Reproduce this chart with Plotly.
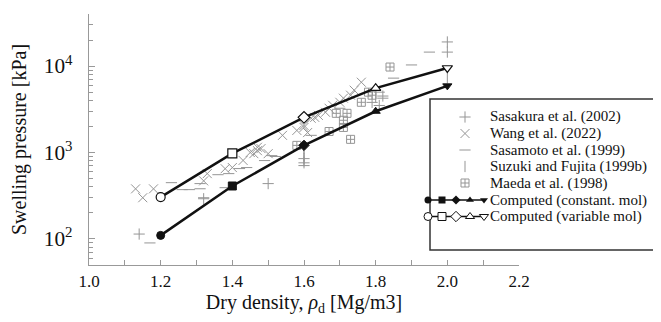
import math
import plotly.graph_objects as go

# ---------------- data ----------------
sasakura_x = [1.14, 1.32, 1.50, 1.60, 1.60, 1.79, 1.81, 1.82, 2.00, 2.00]
sasakura_y = [114, 292, 437, 850, 760, 3800, 3500, 4500, 14500, 19000]

wang_x = [1.13, 1.15, 1.18, 1.32, 1.33, 1.38, 1.40, 1.43, 1.46, 1.47, 1.48, 1.50,
          1.54, 1.58, 1.60, 1.60, 1.62, 1.63, 1.64, 1.66, 1.67, 1.68, 1.70,
          1.71, 1.73, 1.74, 1.76, 1.45, 1.47, 1.61]
wang_y = [380, 300, 380, 470, 570, 650, 670, 810, 970, 1050, 1110, 970,
          1580, 1800, 1950, 2060, 2490, 2550, 2690, 2920, 3250, 3520, 3810,
          4250, 4600, 5260, 6500, 1000, 1150, 1700]

sasamoto_x = [1.17, 1.23, 1.26, 1.28, 1.31, 1.31, 1.32, 1.36, 1.38, 1.39, 1.42,
              1.44, 1.49, 1.51, 1.52, 1.60, 1.62, 1.70, 1.81, 1.82, 1.85,
              1.90, 1.95]
sasamoto_y = [90, 448, 372, 372, 437, 381, 300, 554, 392, 570, 652,
              670, 807, 920, 900, 706, 1580, 3250, 4990, 4250, 7250,
              10300, 14500]

suzuki_x = [1.60, 1.60, 1.60, 1.80, 2.00]
suzuki_y = [1100, 920, 800, 4400, 7300]

maeda_x = [1.58, 1.67, 1.69, 1.72, 1.71, 1.71, 1.73, 1.76, 1.78, 1.79, 1.84]
maeda_y = [1210, 1750, 2840, 2840, 2360, 1950, 1420, 3810, 4990, 4600, 9740]

density = [1.2, 1.4, 1.6, 1.8, 2.0]
const_mol = [110, 410, 1210, 3000, 5900]
var_mol = [305, 975, 2550, 5550, 9500]
comp_symbols = ["circle", "square", "diamond", "triangle-up", "triangle-down"]

legend_labels = ["Sasakura et al. (2002)", "Wang et al. (2022)", "Sasamoto et al. (1999)",
                 "Suzuki and Fujita (1999b)", "Maeda et al. (1998)",
                 "Computed (constant. mol)", "Computed (variable mol)"]

x_ticks = [1.0, 1.2, 1.4, 1.6, 1.8, 2.0, 2.2]

# ---------------- styles ----------------
GRAY = "#959595"
FONT = "Liberation Serif, 'Times New Roman', serif"

data_styles = [
    dict(symbol="cross-thin", size=8),
    dict(symbol="x-thin", size=9),
    dict(symbol="line-ew", size=8),
    dict(symbol="line-ns", size=8),
    dict(symbol="square-cross-open", size=8),
]
data_series = [(sasakura_x, sasakura_y), (wang_x, wang_y), (sasamoto_x, sasamoto_y),
               (suzuki_x, suzuki_y), (maeda_x, maeda_y)]

fig = go.Figure()

for (xs, ys), st in zip(data_series, data_styles):
    fig.add_trace(go.Scatter(
        x=xs, y=ys, mode="markers", showlegend=False,
        marker=dict(symbol=st["symbol"], size=st["size"], color=GRAY,
                    line=dict(color=GRAY, width=1)),
        cliponaxis=False))

fig.add_trace(go.Scatter(
    x=density, y=const_mol, mode="lines+markers", showlegend=False,
    line=dict(color="#111", width=2.5),
    marker=dict(symbol=comp_symbols, size=8, color="#111", line=dict(color="#111", width=1))))
fig.add_trace(go.Scatter(
    x=density, y=var_mol, mode="lines+markers", showlegend=False,
    line=dict(color="#111", width=2.5),
    marker=dict(symbol=comp_symbols, size=9, color="white", line=dict(color="#111", width=1.2))))

# ---------------- manual legend (on a pixel overlay axis) ----------------
# screen-pixel layout of the plot area (page body has an 8px margin)
OFF = 8
FIG_W, FIG_H = 661 - OFF, 322 - OFF
PLOT_L, PLOT_R, PLOT_T, PLOT_B = 89, 519, 14, 265
row_y = [117, 133.5, 150, 166.5, 183, 200, 216.5]
sym_x = 465
for i, st in enumerate(data_styles):
    fig.add_trace(go.Scatter(
        x=[sym_x], y=[row_y[i]], xaxis="x2", yaxis="y2", mode="markers", showlegend=False,
        marker=dict(symbol=st["symbol"], size=st["size"], color=GRAY,
                    line=dict(color=GRAY, width=1)),
        cliponaxis=False, hoverinfo="skip"))
seq_x = [428, 442, 456, 470, 484]
fig.add_trace(go.Scatter(
    x=seq_x, y=[row_y[5]] * 5, xaxis="x2", yaxis="y2", mode="lines+markers", showlegend=False,
    line=dict(color="#111", width=1.5),
    marker=dict(symbol=comp_symbols, size=7, color="#111"), cliponaxis=False, hoverinfo="skip"))
fig.add_trace(go.Scatter(
    x=seq_x, y=[row_y[6]] * 5, xaxis="x2", yaxis="y2", mode="lines+markers", showlegend=False,
    line=dict(color="#111", width=1.5),
    marker=dict(symbol=comp_symbols, size=8, color="white", line=dict(color="#111", width=1)),
    cliponaxis=False, hoverinfo="skip"))

W = PLOT_R - PLOT_L
H = PLOT_B - PLOT_T
def px(x):
    return (x - PLOT_L) / W
def py(y):
    return (PLOT_B - y) / H

annotations = []
for i, lab in enumerate(legend_labels):
    annotations.append(dict(
        x=px(488), y=py(row_y[i]), xref="paper", yref="paper", text=lab,
        showarrow=False, xanchor="left", yanchor="middle",
        font=dict(family=FONT, size=15, color="#111")))

fig.update_layout(
    width=FIG_W, height=FIG_H, autosize=False,
    margin=dict(l=PLOT_L - OFF, r=OFF + FIG_W - PLOT_R, t=PLOT_T - OFF, b=OFF + FIG_H - PLOT_B),
    paper_bgcolor="white", plot_bgcolor="white",
    font=dict(family=FONT, size=17, color="#111"),
    annotations=annotations,
    shapes=[dict(type="rect", xref="paper", yref="paper",
                 x0=px(430), x1=px(660), y0=py(250), y1=py(99),
                 line=dict(color="#333", width=1.5), fillcolor="white", layer="below")],
    xaxis=dict(range=[1.0, 2.2], tickvals=x_ticks, tickformat=".1f", automargin=False,
               showline=True, linecolor="#999", linewidth=1.2,
               ticks="inside", ticklen=5, tickcolor="#999",
               minor=dict(dtick=0.1, ticks="inside", ticklen=5, tickcolor="#999"),
               showgrid=False, zeroline=False,
               tickfont=dict(family=FONT, size=17),
               title=dict(text="Dry density, <i>ρ</i><sub>d</sub> [Mg/m3]",
                          font=dict(family=FONT, size=20), standoff=2)),
    yaxis=dict(type="log", range=[math.log10(50), math.log10(40000)], dtick=1,
               exponentformat="power", showline=True, linecolor="#999", linewidth=1.2,
               automargin=False,
               ticks="inside", ticklen=6, tickcolor="#999",
               minor=dict(dtick="D1", ticks="inside", ticklen=4, tickcolor="#999"),
               showgrid=False, zeroline=False, ticklabelstandoff=12,
               tickfont=dict(family=FONT, size=17),
               title=dict(text="Swelling pressure [kPa]",
                          font=dict(family=FONT, size=20), standoff=14)),
    xaxis2=dict(overlaying="x", range=[PLOT_L, PLOT_R], visible=False),
    yaxis2=dict(overlaying="y", range=[PLOT_B, PLOT_T], visible=False),
)

fig.write_html("out.html")
